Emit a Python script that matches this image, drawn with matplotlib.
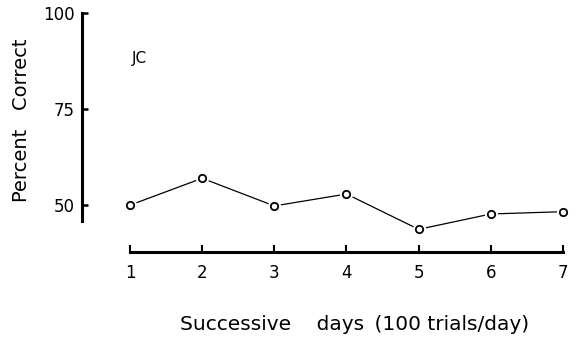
import matplotlib
matplotlib.use("Agg")
import matplotlib.pyplot as plt

# data
days = [1, 2, 3, 4, 5, 6, 7]
pct_correct = [50.0, 57.0, 49.8, 52.9, 43.7, 47.7, 48.3]
x_ticks = [1, 2, 3, 4, 5, 6, 7]
y_ticks = [50, 75, 100]
subject = "JC"

plt.rcParams['font.family'] = ['DejaVu Sans']

fig = plt.figure(figsize=(5.77, 3.40), dpi=100, facecolor='white')
ax = fig.add_axes([82 / 577, 1 - 252 / 340, (570 - 82) / 577, (252 - 12) / 340])

ax.plot(days, pct_correct, color='black', linewidth=0.9, zorder=2, clip_on=False)
# white halo so the line stops short of each open circle
ax.plot(days, pct_correct, linestyle='none', marker='o', markersize=8.5,
        markerfacecolor='white', markeredgecolor='white', zorder=3, clip_on=False)
ax.plot(days, pct_correct, linestyle='none', marker='o', markersize=5.3,
        markerfacecolor='white', markeredgecolor='black', markeredgewidth=1.3,
        zorder=4, clip_on=False)

ax.set_xlim(0.335, 7.097)
ax.set_ylim(37.8, 100.3)

for s in ['top', 'right']:
    ax.spines[s].set_visible(False)
ax.spines['left'].set_bounds(46, 100)
ax.spines['bottom'].set_bounds(1, 7)
ax.spines['left'].set_linewidth(2.2)
ax.spines['bottom'].set_linewidth(2.2)
for sp in ax.spines.values():
    sp.set_clip_on(False)

ax.set_xticks(x_ticks)
ax.set_yticks(y_ticks)
ax.tick_params(axis='y', direction='in', length=4, width=1.8, labelsize=12, pad=5)
ax.tick_params(axis='x', direction='in', length=5, width=1.5, labelsize=12, pad=9)

ax.set_ylabel("Percent   Correct", fontsize=14)
ax.set_xlabel("Successive    days \u2009(100 trials/day)", fontsize=14.5)
ax.yaxis.set_label_coords(-60 / 488, 0.55)
ax.xaxis.set_label_coords((355 - 82) / 488, -0.30)
ax.xaxis.label.set_va('center')
ax.yaxis.label.set_va('center')

ax.text(1.02, 88.3, subject, fontsize=11, ha='left', va='center')

fig.savefig("out.png", dpi=100, facecolor='white')
